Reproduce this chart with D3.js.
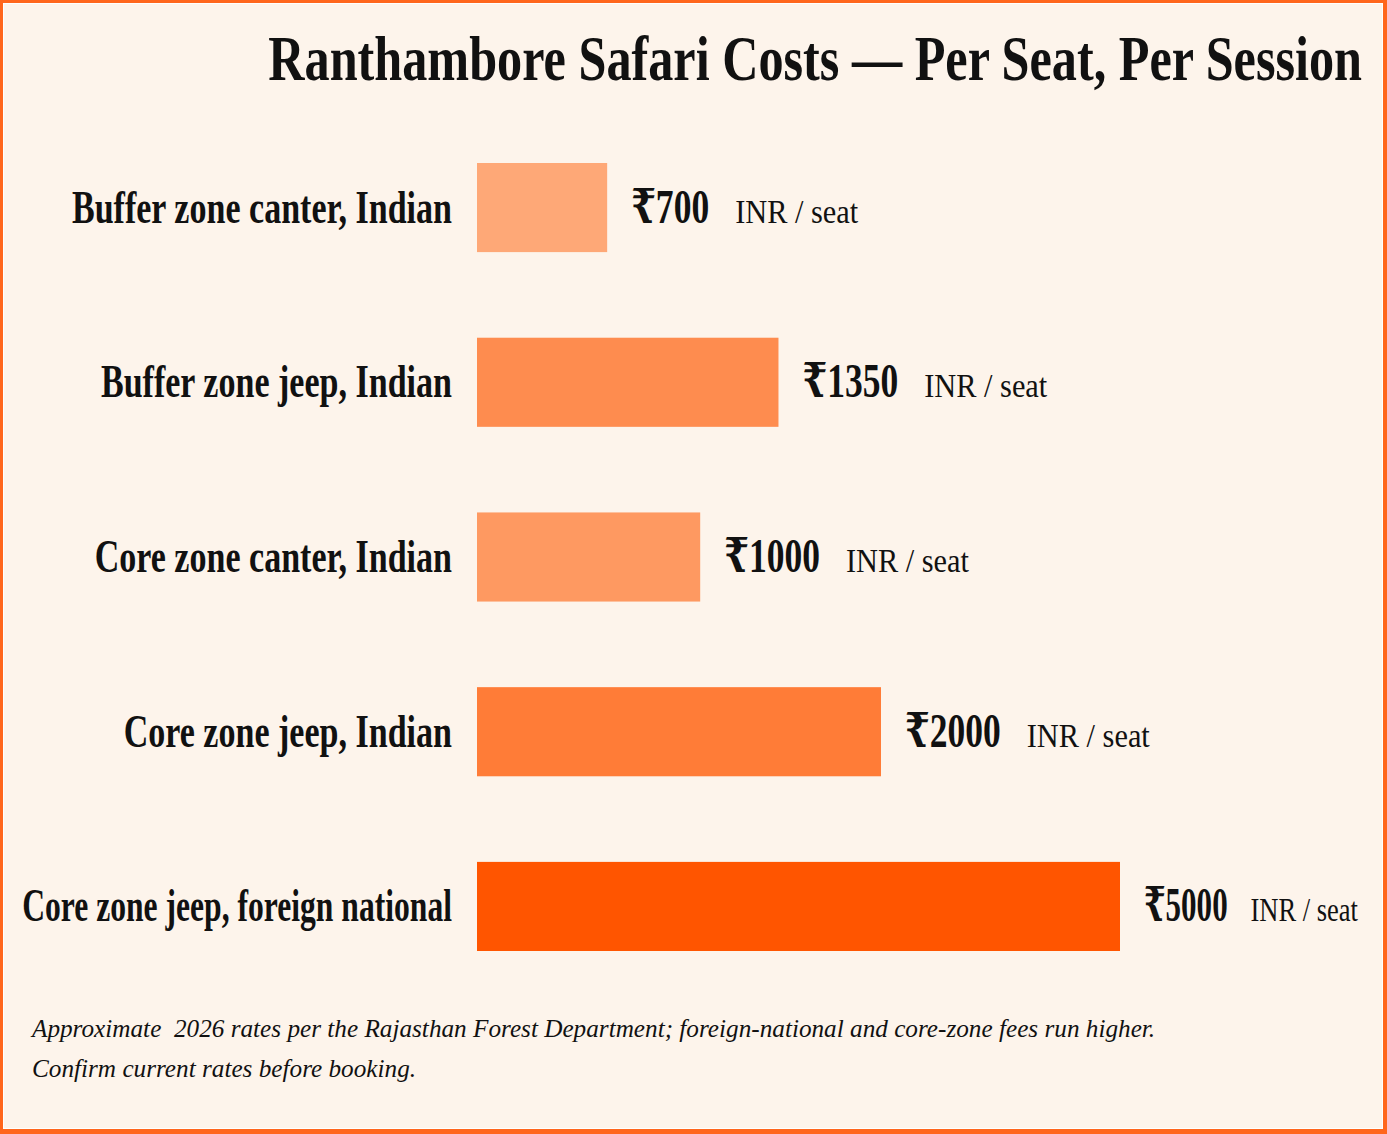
<!DOCTYPE html>
<html lang="en">
<head>
<meta charset="UTF-8">
<title>Ranthambore Safari Costs</title>
<style>
  body { margin: 0; background: #fdf4eb; }
  svg { display: block; }
  text { fill: #111; }
</style>
</head>
<body>
<div class="chart"></div>
<script src="https://d3js.org/d3.v7.min.js"></script>
<script>
// data
const categories = [
    'Buffer zone canter, Indian',
    'Buffer zone jeep, Indian',
    'Core zone canter, Indian',
    'Core zone jeep, Indian',
    'Core zone jeep, foreign national'
];
const costs = [700, 1350, 1000, 2000, 5000];
const unitLabel = 'INR / seat';
const chartTitle = 'Ranthambore Safari Costs \u2014 Per Seat, Per Session';
const notes = [
    'Approximate  2026 rates per the Rajasthan Forest Department; foreign-national and core-zone fees run higher.',
    'Confirm current rates before booking.'
];

const W = 1387, H = 1134;
const serif = '"Liberation Serif", "DejaVu Serif", "Times New Roman", serif';
const rows = categories.map((c, i) => ({ cat: c, cost: costs[i] }));

const svg = d3.select('.chart').append('svg')
    .attr('width', W)
    .attr('height', H);

// frame
svg.append('rect').attr('width', W).attr('height', H).attr('fill', '#ff661c');
svg.append('rect').attr('x', 3).attr('y', 3).attr('width', W - 7).attr('height', H - 8).attr('fill', '#ffffff');
svg.append('rect').attr('x', 4).attr('y', 4).attr('width', W - 9).attr('height', H - 10).attr('fill', '#fdf4eb');

// scales
const barLeft = 477;
const xScale = d3.scaleLog()
    .domain([425, d3.max(costs)])
    .range([barLeft, 1120]);
const yScale = d3.scaleBand()
    .domain(categories)
    .range([163, 951])
    .paddingInner(0.49)
    .paddingOuter(0);
const color = d3.scaleLog()
    .domain(d3.extent(costs))
    .range(['#fea877', '#ff5500']);

// condensed serif helper: text squeezed horizontally around its anchor
function squeezed(parent, x, y, str, opts) {
    const g = parent.append('g').attr('transform', 'translate(' + x + ',' + y + ')');
    const t = g.append('text')
        .attr('text-anchor', opts.anchor || 'start')
        .style('font-family', serif)
        .style('font-size', opts.size + 'px')
        .style('font-weight', opts.weight || 'normal')
        .style('font-style', opts.style || 'normal')
        .style('white-space', 'pre')
        .text(str);
    let sx = opts.sx;
    const raw = t.node().getComputedTextLength();
    if (opts.maxWidth && raw * sx > opts.maxWidth) sx = opts.maxWidth / raw;
    t.attr('transform', 'scale(' + sx + ',1)');
    return raw * sx;
}

// title
squeezed(svg, 1362, 80, chartTitle, { size: 64, sx: 0.785, weight: 'bold', anchor: 'end' });

// bars
svg.selectAll('rect.bar')
    .data(rows)
    .enter()
    .append('rect')
    .attr('class', 'bar')
    .attr('x', barLeft)
    .attr('y', d => yScale(d.cat))
    .attr('width', d => xScale(d.cost) - barLeft)
    .attr('height', yScale.bandwidth())
    .attr('fill', d => color(d.cost));

// category labels + value labels
const rightLimit = 1358;
rows.forEach(d => {
    const base = yScale(d.cat) + yScale.bandwidth() / 2 + 15;
    squeezed(svg, 452, base, d.cat, { size: 46, sx: 0.74, weight: 'bold', anchor: 'end', maxWidth: 430 });

    // value + unit, squeezed as a group if it would run past the frame
    const vx = xScale(d.cost) + 24;
    const grp = svg.append('g');
    const vw = squeezed(grp, 0, 0, '\u20b9' + d.cost, { size: 48, sx: 0.74, weight: 'bold' });
    const uw = squeezed(grp, vw + 26, 0, unitLabel, { size: 33, sx: 0.92 });
    const total = vw + 26 + uw;
    const k = Math.min(1, (rightLimit - vx) / total);
    grp.attr('transform', 'translate(' + vx + ',' + base + ') scale(' + k + ',1)');
});

// footnote
notes.forEach((n, i) => {
    squeezed(svg, 32, 1037 + i * 40, n, { size: 26, sx: 0.97, style: 'italic' });
});
</script>
</body>
</html>
